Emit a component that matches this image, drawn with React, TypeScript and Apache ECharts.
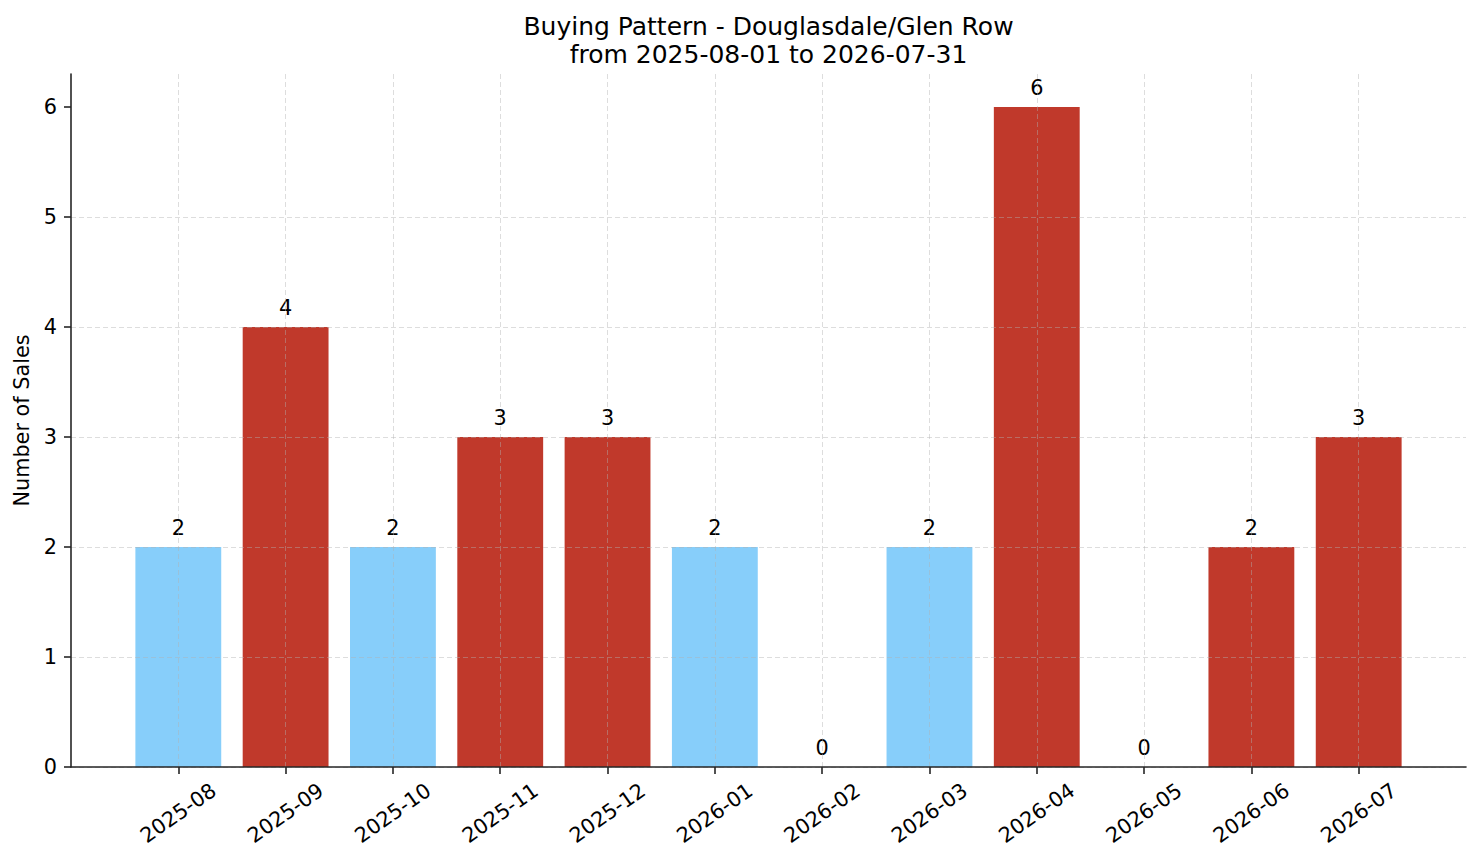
import React, { useEffect, useRef } from 'react';
import * as echarts from 'echarts';

const months = [
  '2025-08', '2025-09', '2025-10', '2025-11', '2025-12', '2026-01',
  '2026-02', '2026-03', '2026-04', '2026-05', '2026-06', '2026-07',
];
const sales = [2, 4, 2, 3, 3, 2, 0, 2, 6, 0, 2, 3];
// bars drawn in the strong colour
const highlighted = [false, true, false, true, true, false, true, false, true, true, true, true];
const yTicks = [0, 1, 2, 3, 4, 5, 6];

const FONT = '"DejaVu Sans", sans-serif';
const BLUE = '#87cefa';
const RED = '#c0392b';

const App: React.FC = () => {
  const chartRef = useRef<HTMLDivElement>(null);

  useEffect(() => {
    if (!chartRef.current) return;
    const chart = echarts.init(chartRef.current, undefined, { renderer: 'svg' });

    const monthIdx = months.map((_, i) => i);

    const option: echarts.EChartsOption = {
      animation: false,
      backgroundColor: '#ffffff',
      textStyle: { fontFamily: FONT, color: '#000' },
      title: {
        text: 'Buying Pattern - Douglasdale/Glen Row\nfrom 2025-08-01 to 2026-07-31',
        left: 768.5,
        top: 12,
        padding: 0,
        textAlign: 'center',
        textStyle: {
          fontFamily: FONT,
          fontSize: 25,
          fontWeight: 'normal',
          color: '#000',
          lineHeight: 28,
        },
      },
      grid: { left: 71, right: 15, top: 74, bottom: 96 },
      xAxis: {
        type: 'value',
        min: -1,
        max: 12,
        z: 3,
        axisLine: { show: true, onZero: false, lineStyle: { color: '#262626', width: 1.6 } },
        axisTick: {
          show: true,
          customValues: monthIdx,
          length: 7,
          lineStyle: { color: '#262626', width: 1.6 },
        },
        axisLabel: {
          customValues: monthIdx,
          formatter: (v: number) => months[v] ?? '',
          rotate: 35,
          align: 'center',
          verticalAlign: 'middle',
          margin: 46,
          fontSize: 20.8,
          fontFamily: FONT,
          color: '#000',
        },
        splitLine: {
          show: true,
          lineStyle: { color: 'rgba(176,176,176,0.55)', type: [5, 3], width: 0.8 },
        },
      },
      yAxis: {
        type: 'value',
        min: 0,
        max: 6.3,
        interval: 1,
        z: 3,
        name: 'Number of Sales',
        nameLocation: 'middle',
        nameGap: 37,
        nameTextStyle: { fontFamily: FONT, fontSize: 20.8, color: '#000' },
        axisLine: { show: true, onZero: false, lineStyle: { color: '#262626', width: 1.6 } },
        axisTick: {
          show: true,
          customValues: yTicks,
          length: 7,
          lineStyle: { color: '#262626', width: 1.6 },
        },
        axisLabel: {
          customValues: yTicks,
          margin: 14,
          fontSize: 20.8,
          fontFamily: FONT,
          color: '#000',
        },
        splitLine: {
          show: true,
          showMaxLine: false,
          lineStyle: { color: 'rgba(176,176,176,0.55)', type: [5, 3], width: 0.8 },
        },
      },
      series: [
        {
          type: 'bar',
          barWidth: '80%',
          data: months.map((_, i) => ({
            value: [i, sales[i]],
            itemStyle: { color: highlighted[i] ? RED : BLUE },
          })),
          label: {
            show: true,
            position: 'top',
            distance: 9,
            formatter: (p: any) => String(p.value[1]),
            fontFamily: FONT,
            fontSize: 20.8,
            color: '#000',
          },
        },
      ],
    };

    chart.setOption(option);
    const handleResize = () => chart.resize();
    window.addEventListener('resize', handleResize);
    return () => {
      window.removeEventListener('resize', handleResize);
      chart.dispose();
    };
  }, []);

  return <div ref={chartRef} style={{ width: '1481px', height: '863px', margin: '-8px' }} />;
};

export default App;
